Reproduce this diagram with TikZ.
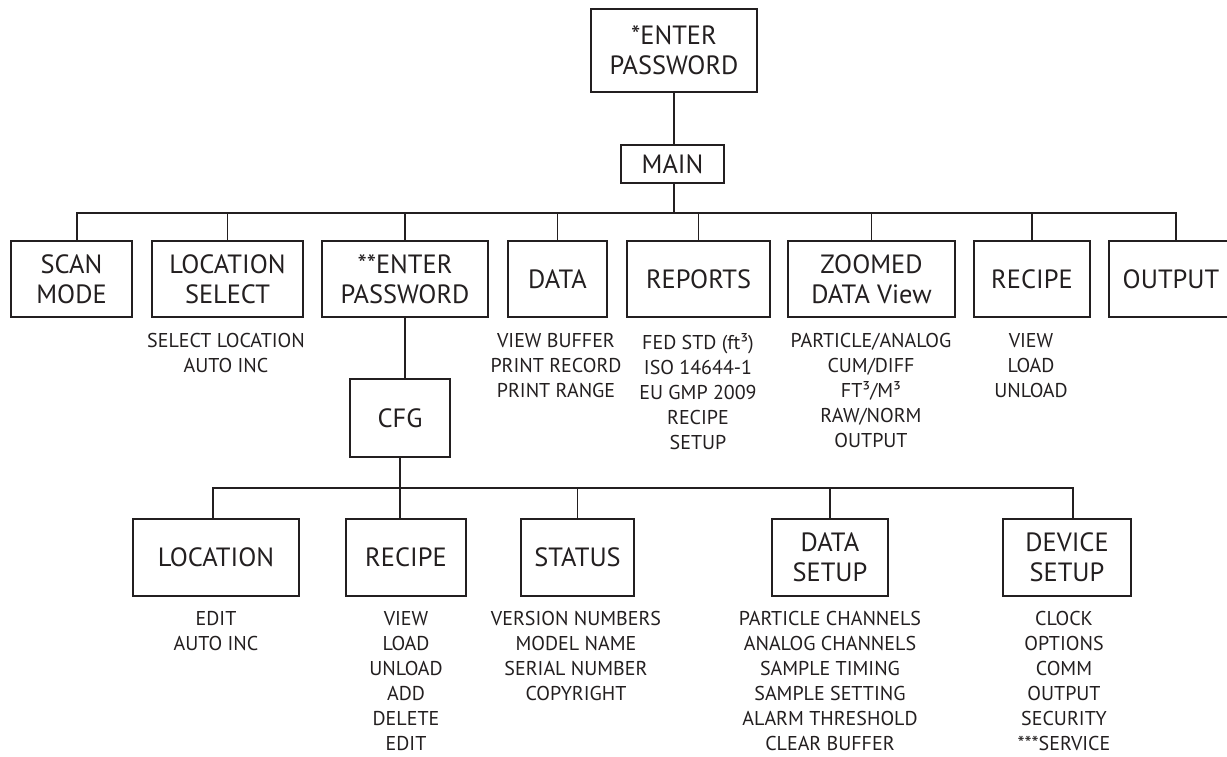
\documentclass[tikz,border=0pt]{standalone}
\usepackage{fontspec}
\setmainfont{PT Sans}
\definecolor{ink}{RGB}{35,31,32}
\begin{document}
\begin{tikzpicture}[x=0.5pt,y=-0.5pt,
  box/.style={draw=ink, line width=1pt, inner sep=0pt, align=center, text=ink,
    font=\fontsize{13.2}{14.8}\selectfont},
  lst/.style={anchor=north, inner sep=0pt, align=center, text=ink,
    font=\fontsize{10}{12.5}\selectfont},
  conn/.style={draw=ink, line width=0.85pt}]
\useasboundingbox (0,0) rectangle (1227,756);
\clip (0,0) rectangle (1227,756);
\fill[white] (0,0) rectangle (1227,756);

% top
\node[box, minimum width=83pt, minimum height=41.5pt] (pw1) at (674,50.5) {*ENTER\\PASSWORD};
\node[box, minimum width=51.5pt, minimum height=19pt] (main) at (672.5,164) {MAIN};

% level 1
\node[box, minimum width=60.5pt, minimum height=38pt] (scan) at (71.5,279) {SCAN\\MODE};
\node[box, minimum width=75.5pt, minimum height=38pt] (locsel) at (227.5,279) {LOCATION\\SELECT};
\node[box, minimum width=83pt, minimum height=38pt] (pw2) at (405,279) {**ENTER\\PASSWORD};
\node[box, minimum width=49.5pt, minimum height=38pt] (data) at (557.5,279) {DATA};
\node[box, minimum width=71.5pt, minimum height=38pt] (reports) at (698.5,279) {REPORTS};
\node[box, minimum width=83.5pt, minimum height=38pt] (zoomed) at (871.5,279) {ZOOMED\\DATA View};
\node[box, minimum width=58pt, minimum height=38pt] (recipe) at (1032,279) {RECIPE};
\node[box, minimum width=62pt, minimum height=38pt] (output) at (1171,279) {OUTPUT};

% level 1 lists
\node[lst] (llocsel) at (226,333) {SELECT LOCATION\\AUTO INC};
\node[lst] (ldata) at (556,333) {VIEW BUFFER\\PRINT RECORD\\PRINT RANGE};
\node[lst] (lreports) at (698,333) {FED STD (ft³)\\ISO 14644-1\\EU GMP 2009\\RECIPE\\SETUP};
\node[lst] (lzoomed) at (871,333) {PARTICLE/ANALOG\\CUM/DIFF\\FT³/M³\\RAW/NORM\\OUTPUT};
\node[lst] (lrecipe) at (1031,333) {VIEW\\LOAD\\UNLOAD};

% cfg
\node[box, minimum width=50pt, minimum height=39pt] (cfg) at (400,418) {CFG};

% level 2
\node[box, minimum width=83pt, minimum height=38.5pt] (loc) at (216,557.5) {LOCATION};
\node[box, minimum width=60pt, minimum height=38.5pt] (recipe2) at (406,557.5) {RECIPE};
\node[box, minimum width=56.5pt, minimum height=38.5pt] (status) at (577.5,557.5) {STATUS};
\node[box, minimum width=58pt, minimum height=38.5pt] (datasetup) at (830,557.5) {DATA\\SETUP};
\node[box, minimum width=64pt, minimum height=38.5pt] (devsetup) at (1067,557.5) {DEVICE\\SETUP};

% level 2 lists
\node[lst] (lloc) at (216,611) {EDIT\\AUTO INC};
\node[lst] (lrecipe2) at (406,611) {VIEW\\LOAD\\UNLOAD\\ADD\\DELETE\\EDIT};
\node[lst] (lstatus) at (576,611) {VERSION NUMBERS\\MODEL NAME\\SERIAL NUMBER\\COPYRIGHT};
\node[lst] (ldatasetup) at (830,611) {PARTICLE CHANNELS\\ANALOG CHANNELS\\SAMPLE TIMING\\SAMPLE SETTING\\ALARM THRESHOLD\\CLEAR BUFFER};
\node[lst] (ldevsetup) at (1064,611) {CLOCK\\OPTIONS\\COMM\\OUTPUT\\SECURITY\\***SERVICE};

% connectors
\coordinate (bus1) at (674,213);
\coordinate (bus2) at (400,488);
\draw[conn] (pw1.south) -- (pw1.south |- main.north);
\draw[conn] (pw1.south |- main.south) -- (bus1);
\draw[conn] ([xshift=2.75pt]scan.north) |- (bus1);
\draw[conn] (locsel.north) |- (bus1);
\draw[conn] (pw2.north) |- (bus1);
\draw[conn] (data.north) |- (bus1);
\draw[conn] (reports.north) |- (bus1);
\draw[conn] (zoomed.north) |- (bus1);
\draw[conn] (recipe.north) |- (bus1);
\draw[conn] ([xshift=2.5pt]output.north) |- (bus1);
\draw[conn] (pw2.south) -- (pw2.south |- cfg.north);
\draw[conn] (cfg.south) -- (bus2);
\draw[conn] ([xshift=-1.5pt]loc.north) |- (bus2);
\draw[conn] ([xshift=-3pt]recipe2.north) |- (bus2);
\draw[conn] (status.north) |- (bus2);
\draw[conn] (datasetup.north) |- (bus2);
\draw[conn] ([xshift=3pt]devsetup.north) |- (bus2);
\end{tikzpicture}
\end{document}
